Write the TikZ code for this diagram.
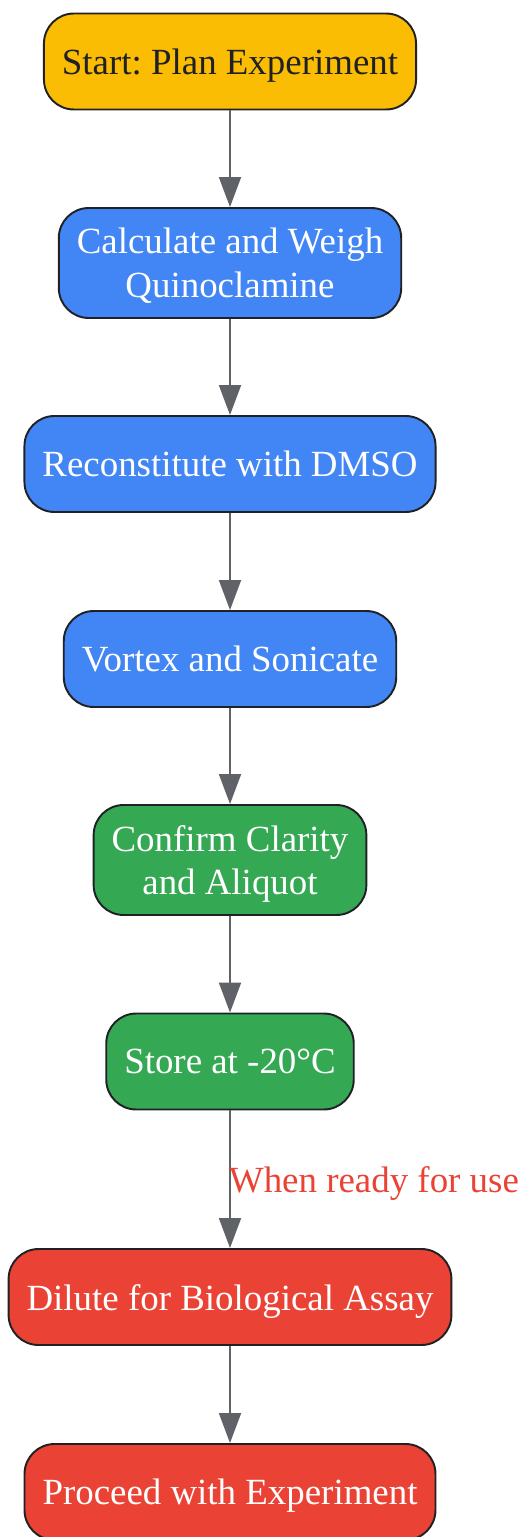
\documentclass[tikz,border=0pt]{standalone}
\usepackage{fontspec}
\setmainfont{Liberation Serif}
\usetikzlibrary{shapes,arrows.meta}
\usetikzlibrary{positioning}
\definecolor{gyellow}{HTML}{FBBC04}
\definecolor{gblue}{HTML}{4285F4}
\definecolor{ggreen}{HTML}{34A853}
\definecolor{gred}{HTML}{EA4335}
\definecolor{gborder}{HTML}{202124}
\definecolor{garrow}{HTML}{5F6368}
\frenchspacing
\begin{document}
\begin{tikzpicture}[x=0.02cm,y=-0.02cm,
  box/.style={draw=gborder,line width=1.1pt,rounded corners=0.6cm,align=center,
    inner xsep=0.36cm,minimum height=1.92cm,text depth=0pt,text=white,font=\fontsize{21}{25}\selectfont},
  tall/.style={minimum height=2.2cm},
  flow/.style={draw=garrow,line width=1.1pt,-{Triangle[length=0.6cm,width=0.44cm]}},
  lbl/.style={text=gred,font=\fontsize{21}{25}\selectfont,text depth=0pt,inner sep=0pt}]
\useasboundingbox (0,0) rectangle (525,1537);
\node[box,fill=gyellow,text=gborder] (start) at (230,61.5) {Start: Plan Experiment};
\node[box,tall,fill=gblue] (weigh) at (230,263) {Calculate and Weigh\\Quinoclamine};
\node[box,fill=gblue] (dmso) at (230,464) {Reconstitute with DMSO};
\node[box,fill=gblue] (vortex) at (230,659) {Vortex and Sonicate};
\node[box,tall,fill=ggreen] (aliquot) at (230,860) {Confirm Clarity\\and Aliquot};
\node[box,fill=ggreen] (store) at (230,1061.5) {Store at -20°C};
\node[box,fill=gred] (dilute) at (230,1297) {Dilute for Biological Assay};
\node[box,fill=gred] (proceed) at (230,1492) {Proceed with Experiment};
\draw[flow] (start) -- (weigh);
\draw[flow] (weigh) -- (dmso);
\draw[flow] (dmso) -- (vortex);
\draw[flow] (vortex) -- (aliquot);
\draw[flow] (aliquot) -- (store);
\draw[flow] (store) -- node[lbl,anchor=west,xshift=-0.04cm] (use) {When ready for use} (dilute);
\draw[flow] (dilute) -- (proceed);
\end{tikzpicture}
\end{document}
